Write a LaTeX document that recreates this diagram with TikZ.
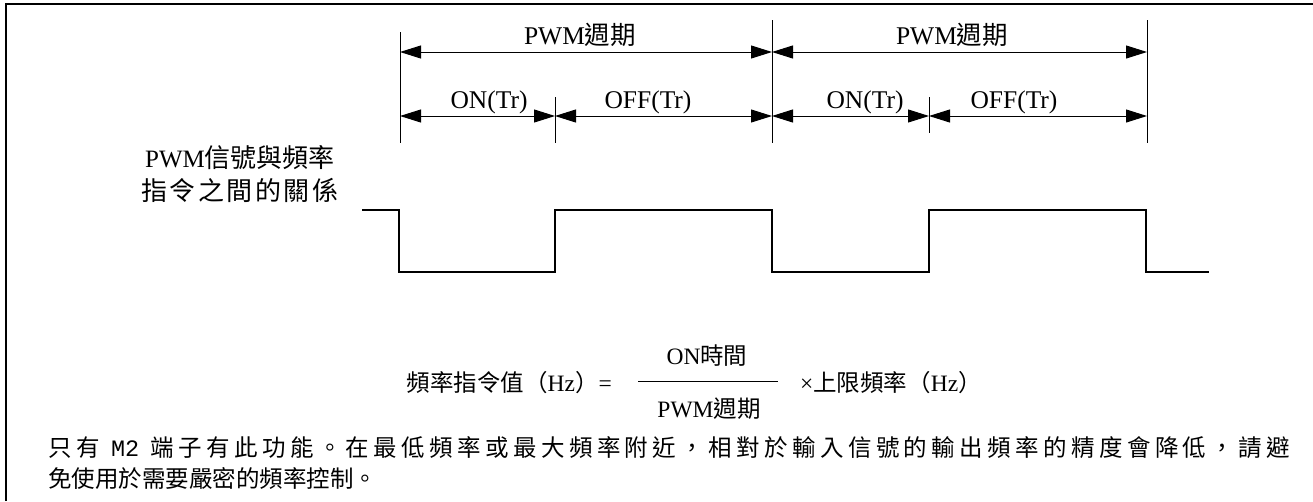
\documentclass[tikz,border=0pt]{standalone}
\usepackage{fontspec}
\setmainfont{Liberation Serif}
\newfontfamily\cjk{Noto Sans CJK TC}
\newfontfamily\monof{Liberation Mono}
\usetikzlibrary{arrows.meta}
\newcommand\C[1]{{\cjk #1}}
\newcommand\spreadtext[2]{\def\spreadgap{#1}\spreadloop#2\endspread}
\def\spreadloop#1{\ifx#1\endspread\unskip\else#1\hskip\spreadgap\relax\expandafter\spreadloop\fi}
\begin{document}
\begin{tikzpicture}[x=1pt,y=-1pt,
  ext/.style={line width=1pt},
  dimarrow/.style={line width=1pt,{Triangle[length=21pt,width=13pt]}-{Triangle[length=21pt,width=13pt]}},
  wave/.style={line width=1.5pt},
  frame/.style={line width=2.2pt},
  lbl/.style={inner sep=0pt,font=\fontsize{25.5}{30}\selectfont},
  ctext/.style={inner sep=0pt,font=\fontsize{23.5}{28}\selectfont},
]
\useasboundingbox (0,0) rectangle (1313,501);
% frame
\draw[frame] (6,501) -- (6,4) -- (1313,4);

% extension lines
\coordinate (e1t) at (400,32);  \coordinate (e1b) at (400,143);
\coordinate (e2t) at (555,97);  \coordinate (e2b) at (555,143);
\coordinate (e3t) at (772,20);  \coordinate (e3b) at (772,143);
\coordinate (e4t) at (929,97);  \coordinate (e4b) at (929,133);
\coordinate (e5t) at (1147,20); \coordinate (e5b) at (1147,143);
\foreach \i in {1,...,5} \draw[ext] (e\i t) -- (e\i b);

% dimension arrows
\coordinate (p1a) at (400,52); \coordinate (p1b) at (772,52);
\coordinate (p2a) at (772,52); \coordinate (p2b) at (1147,52);
\coordinate (s1) at (400,116); \coordinate (s2) at (555,116);
\coordinate (s3) at (772,116); \coordinate (s4) at (929,116);
\coordinate (s5) at (1147,116);
\draw[dimarrow] (p1a) -- (p1b);
\draw[dimarrow] (p2a) -- (p2b);
\draw[dimarrow] (s1) -- (s2);
\draw[dimarrow] (s2) -- (s3);
\draw[dimarrow] (s3) -- (s4);
\draw[dimarrow] (s4) -- (s5);

% labels
\node[lbl] (per1) at (580,35) {PWM\C{週期}};
\node[lbl] (per2) at (952,35) {PWM\C{週期}};
\node[lbl] (on1) at (489,102) {ON(Tr)};
\node[lbl] (off1) at (648,102) {OFF(Tr)};
\node[lbl] (on2) at (865,102) {ON(Tr)};
\node[lbl] (off2) at (1014,102) {OFF(Tr)};

% left label
\node[inner sep=0pt,font=\fontsize{25}{30}\selectfont] (rel1) at (240,158)
  {PWM{\cjk\fontsize{26}{30}\selectfont 信號與頻率}};
\node[inner sep=0pt,font=\fontsize{26}{30}\selectfont\cjk] (rel2) at (240,190)
  {\spreadtext{2.5pt}{指令之間的關係}};

% waveform
\draw[wave] (362,210) -- (399,210) -- (399,272) -- (555,272) -- (555,210)
  -- (772,210) -- (772,272) -- (929,272) -- (929,210) -- (1146,210)
  -- (1146,272) -- (1209,272);

% formula
\node[ctext,anchor=east] (lhs) at (612,383) {\C{頻率指令值（}Hz\C{）}=};
\coordinate (barl) at (638,381); \coordinate (barr) at (778,381);
\draw[line width=1pt] (barl) -- (barr);
\node[ctext] (num) at (707,356) {ON\C{時間}};
\node[ctext] (den) at (709,409) {PWM\C{週期}};
\node[ctext,anchor=west] (rhs) at (800,383) {×\C{上限頻率（}Hz\C{）}};

% bottom text
\node[ctext,anchor=west] (note1) at (48,448)
  {\makebox[1242pt][s]{\cjk\spreadtext{0pt plus 1fil}{只有}\hskip 7pt plus 1fil{\monof M2}\hskip 7pt plus 1fil\spreadtext{0pt plus 1fil}{端子有此功能。在最低頻率或最大頻率附近，相對於輸入信號的輸出頻率的精度會降低，請避}}};
\node[ctext,anchor=west] (note2) at (48,479) {\C{免使用於需要嚴密的頻率控制。}};
\end{tikzpicture}
\end{document}
